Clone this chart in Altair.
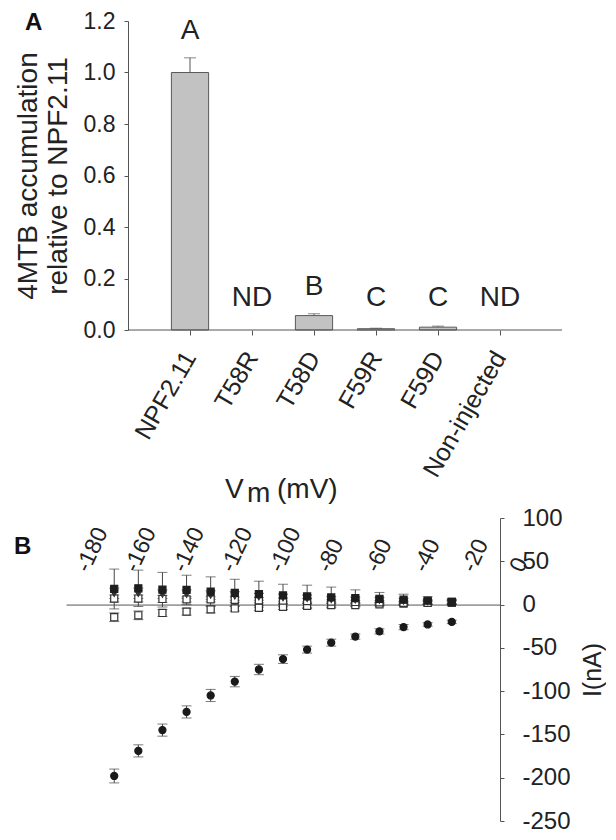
import altair as alt
import pandas as pd

FONT = "Liberation Sans"
TXT = "#222222"
AX = "#555555"

# ---------------- Panel A data ----------------
cats = ["NPF2.11", "T58R", "T58D", "F59R", "F59D", "Non-injected"]
accum = [1.0, 0.0, 0.056, 0.005, 0.011, 0.0]
accum_err = [0.057, 0.0, 0.007, 0.002, 0.004, 0.0]
letters = ["A", "ND", "B", "C", "C", "ND"]

# ---------------- Panel B data ----------------
vm = [-160, -150, -140, -130, -120, -110, -100, -90, -80, -70, -60, -50, -40, -30, -20]
i_circle = [-198, -169, -145, -124, -105, -89, -75, -63, -52, -44, -37, -31, -26, -23, -20]
e_circle = [8, 7, 7, 7, 7, 6, 6, 5, 4, 4, 3, 3, 3, 2, 2]
i_fsquare = [18, 18.8, 17.2, 16.9, 15, 13.5, 12, 10.5, 9.4, 8.2, 7.5, 6.7, 5.6, 4.5, 3]
e_fsquare = [23, 21, 20, 17, 17, 15.7, 15, 13, 13, 12, 9.5, 7.3, 6.4, 4.5, 3]
i_tri = [13, 13, 12, 12, 11, 10, 9, 8, 7, 6, 5.5, 5, 4, 3.5, 3]
e_tri = [6, 6, 5, 5, 5, 5, 4, 4, 4, 3, 3, 3, 3, 2, 2]
i_osq_hi = [7, 7, 6.5, 6, 6, 5.5, 5, 4.5, 4, 3.5, 3, 2.5, 2, 2, 2]
e_osq_hi = [4, 4, 4, 3, 3, 3, 3, 3, 3, 2, 2, 2, 2, 2, 2]
i_osq_lo = [-14.6, -12.4, -9.7, -8.2, -5.6, -4.5, -3.7, -2.6, -1.5, -0.7, -0.5, 0.3, 1.1, 2.2, 3]
e_osq_lo = [5, 5, 4, 4, 4, 3, 3, 3, 3, 2, 2, 2, 2, 2, 2]

series_order = ["Non-injected", "F59R", "F59D", "T58D", "NPF2.11"]
series_vals = [i_osq_lo, i_osq_hi, i_tri, i_fsquare, i_circle]
series_errs = [e_osq_lo, e_osq_hi, e_tri, e_fsquare, e_circle]
shapes = ["square", "square", "triangle-down", "square", "circle"]
fills = ["#ffffff", "#ffffff", "#333333", "#1e1e1e", "#1a1a1a"]
strokes = ["#333333", "#333333", "#333333", "#1e1e1e", "#1a1a1a"]
sizes = [50, 50, 55, 60, 80]

# ---------------- Panel A ----------------
dfA = pd.DataFrame({"cat": cats, "v": accum, "e": accum_err, "letter": letters})
W_A, H_A = 496, 309
SHIFT = 62  # y axis of panel A sits this far right of the column's left edge

xA = alt.X(
    "cat:N", sort=cats,
    scale=alt.Scale(range=[SHIFT, W_A], paddingInner=0.4, paddingOuter=0.7),
    axis=alt.Axis(title=None, labelAngle=300, labelAlign="right", labelBaseline="middle",
                  labelFontSize=25, labelFont=FONT, labelColor=TXT, tickSize=5,
                  tickColor=AX, domain=False, labelPadding=18, labelLimit=400,
                  grid=False, labelOverlap=False),
)
yaxA = alt.Axis(title=["4MTB accumulation", "relative to NPF2.11"], offset=-SHIFT,
                values=[0, 0.2, 0.4, 0.6, 0.8, 1.0, 1.2], format=".1f",
                labelFontSize=23, labelFont=FONT, labelColor=TXT, tickSize=4,
                tickColor=AX, domainColor=AX, labelPadding=9, grid=False,
                titleFontSize=28, titleFont=FONT, titleFontWeight="normal",
                titleColor=TXT, titleLineHeight=30, titlePadding=11,
                labelFlush=False, labelOverlap=False)
yscA = alt.Scale(domain=[0, 1.2], nice=False)

baseA = alt.Chart(dfA).encode(x=xA)
bars = baseA.transform_filter("datum.v > 0").mark_bar(
    color="#c2c2c2", stroke="#5a5a5a", strokeWidth=1
).encode(y=alt.Y("v:Q", scale=yscA, axis=yaxA))
errA = baseA.transform_filter("datum.e > 0").transform_calculate(
    top="datum.v + datum.e").mark_rule(color=AX, strokeWidth=1).encode(
    y=alt.Y("v:Q", scale=yscA, axis=yaxA), y2="top:Q")
capA = baseA.transform_filter("datum.e > 0").transform_calculate(
    top="datum.v + datum.e").mark_tick(orient="horizontal", size=12, thickness=1,
                                       color=AX).encode(
    y=alt.Y("top:Q", scale=yscA, axis=yaxA))
lettersA = baseA.transform_calculate(ly="max(datum.v + datum.e, 0.02)").mark_text(
    dy=-13, baseline="bottom", fontSize=28, font=FONT, color=TXT
).encode(y=alt.Y("ly:Q", scale=yscA, axis=yaxA), text="letter:N")
axisLineA = alt.Chart(pd.DataFrame({"t": [0]})).mark_rule(color=AX, strokeWidth=1).encode(
    x=alt.value(SHIFT), x2=alt.value(W_A), y=alt.value(H_A))
labA = alt.Chart(pd.DataFrame({"t": ["A"]})).mark_text(
    align="left", baseline="middle", fontSize=24, fontWeight="bold", font=FONT,
    color="#111111").encode(x=alt.value(-41), y=alt.value(2), text="t:N")

chartA = alt.layer(bars, errA, capA, lettersA, axisLineA, labA).properties(
    width=W_A, height=H_A)

# ---------------- Panel B ----------------
rows = []
for name, vals, errs in zip(series_order, series_vals, series_errs):
    for v, i, e in zip(vm, vals, errs):
        rows.append({"V": v, "I": i, "E": e, "S": name})
dfB = pd.DataFrame(rows)
W_B, H_B = 434, 303
zero_off = H_B * 100 / 350

xscB = alt.Scale(domain=[-180, 0], nice=False, zero=False)
yscB = alt.Scale(domain=[-250, 100], nice=False, zero=False)
xaxB = alt.Axis(orient="top", offset=-zero_off, values=list(range(-180, 1, 20)),
                labelExpr="datum.value + ''", labelAngle=295, labelAlign="left",
                labelBaseline="top", labelFontSize=23, labelFont=FONT, labelColor=TXT,
                ticks=False, labelPadding=39, labelOffset=6,
                domainColor=AX, title=None, grid=False,
                labelOverlap=False, labelFlush=False)
yaxB = alt.Axis(orient="right", values=list(range(-250, 101, 50)),
                labelExpr="datum.value + ''", labelFontSize=24, labelFont=FONT,
                labelColor=TXT, tickSize=4, tickColor=AX, domainColor=AX,
                labelPadding=18, title="I(nA)", titleAngle=270, titleBaseline="top",
                titleFontSize=25, titleFont=FONT, titleFontWeight="normal",
                titleColor=TXT, titlePadding=10, grid=False, labelFlush=False,
                labelOverlap=False)

baseB = alt.Chart(dfB).transform_calculate(
    lo="datum.I - datum.E", hi="datum.I + datum.E")
xB = alt.X("V:Q", scale=xscB, axis=xaxB)
errB = baseB.mark_rule(color="#444444", strokeWidth=1).encode(
    x=xB, y=alt.Y("lo:Q", scale=yscB, axis=yaxB), y2="hi:Q")
capHi = baseB.mark_tick(orient="horizontal", size=10, thickness=1, color="#444444").encode(
    x=xB, y=alt.Y("hi:Q", scale=yscB, axis=yaxB))
capLo = baseB.mark_tick(orient="horizontal", size=10, thickness=1, color="#444444").encode(
    x=xB, y=alt.Y("lo:Q", scale=yscB, axis=yaxB))
ptsB = baseB.mark_point(filled=True, opacity=1, strokeWidth=1.2).encode(
    x=xB, y=alt.Y("I:Q", scale=yscB, axis=yaxB),
    shape=alt.Shape("S:N", scale=alt.Scale(domain=series_order, range=shapes), legend=None),
    fill=alt.Fill("S:N", scale=alt.Scale(domain=series_order, range=fills), legend=None),
    stroke=alt.Stroke("S:N", scale=alt.Scale(domain=series_order, range=strokes), legend=None),
    size=alt.Size("S:N", scale=alt.Scale(domain=series_order, range=sizes), legend=None),
    order=alt.Order("ord:Q"),
).transform_calculate(ord="indexof(%s, datum.S)" % str(series_order))


def label(t, x, y, size=28, weight="normal"):
    return alt.Chart(pd.DataFrame({"t": [t]})).mark_text(
        align="left", baseline="alphabetic", fontSize=size, fontWeight=weight,
        font=FONT, color=TXT).encode(x=alt.value(x), y=alt.value(y), text="t:N")


tV = label("V", 159, -20)
tm = label("m", 181, -16)
tmv = label("(mV)", 211, -20)
labB = alt.Chart(pd.DataFrame({"t": ["B"]})).mark_text(
    align="left", baseline="middle", fontSize=24, fontWeight="bold", font=FONT,
    color="#111111").encode(x=alt.value(-52), y=alt.value(29), text="t:N")

chartB = alt.layer(errB, capHi, capLo, ptsB, tV, tm, tmv, labB).properties(
    width=W_B, height=H_B)

chart = alt.vconcat(chartA, chartB, spacing=-6).properties(
    padding={"left": 6, "top": 2, "right": 0, "bottom": 0}
).configure(font=FONT).configure_view(stroke=None)

chart.save("out.html", embed_options={"renderer": "svg", "actions": False})
